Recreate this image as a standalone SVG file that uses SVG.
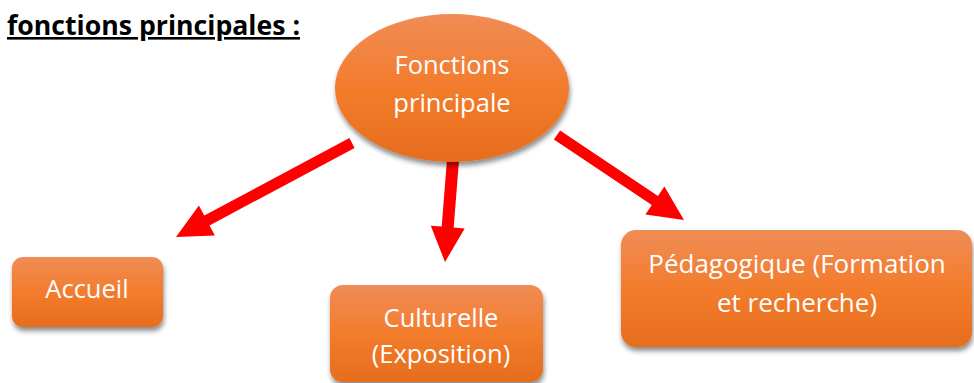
<svg xmlns="http://www.w3.org/2000/svg" width="974" height="383" viewBox="0 0 974 383">
  <defs>
    <linearGradient id="og" x1="0" y1="0" x2="0" y2="1">
      <stop offset="0" stop-color="#F08C56"/>
      <stop offset="0.5" stop-color="#F37C2C"/>
      <stop offset="1" stop-color="#E66D1D"/>
    </linearGradient>
    <filter id="sh" x="-10%" y="-10%" width="120%" height="130%">
      <feDropShadow dx="1" dy="4" stdDeviation="2.5" flood-color="#000" flood-opacity="0.45"/>
    </filter>
  </defs>
  <style>
    .node { fill: url(#og); filter: url(#sh); }
    .lbl { font-family: "Open Sans", "Noto Sans", sans-serif; font-size: 25.5px; fill: #FFFFFF; text-anchor: middle; }
    .big { font-size: 26px; }
    .arrow { fill: #FF0000; }
    .title { font-family: "Open Sans", "Liberation Sans", sans-serif; font-weight: bold; font-size: 26px; fill: #000000; text-decoration: underline; }
  </style>
  <rect width="974" height="383" fill="#FFFFFF"/>
  <text class="title" x="7" y="35" textLength="293" lengthAdjust="spacingAndGlyphs">fonctions principales :</text>

  <g id="connectors">
    <polygon class="arrow" points="354.6,147.9 209.5,225.4 214.9,235.5 176,237 198.9,205.5 204.3,215.6 349.4,138.1"/>
    <polygon class="arrow" points="460,147.5 453.7,227.6 464.7,228.4 445,262 430.8,225.8 441.7,226.6 448,146.5"/>
    <polygon class="arrow" points="553.9,139.6 651.8,205.1 645.4,214.6 684,220 664.4,186.4 658,195.9 560.1,130.4"/>
  </g>

  <g id="node-fonctions">
    <ellipse class="node" cx="452" cy="88" rx="117" ry="74"/>
    <text class="lbl" x="452" y="74">Fonctions</text>
    <text class="lbl" x="452" y="112">principale</text>
  </g>

  <g id="node-accueil">
    <rect class="node" x="12" y="257" width="151" height="70" rx="11"/>
    <text class="lbl" x="87" y="298">Accueil</text>
  </g>

  <g id="node-culturelle">
    <rect class="node" x="330" y="285" width="213" height="97" rx="13"/>
    <text class="lbl" x="441" y="327">Culturelle</text>
    <text class="lbl" x="441" y="363">(Exposition)</text>
  </g>

  <g id="node-pedagogique">
    <rect class="node" x="621" y="230" width="351" height="117" rx="15"/>
    <text class="lbl big" x="797" y="273">Pédagogique (Formation</text>
    <text class="lbl big" x="797" y="312">et recherche)</text>
  </g>
</svg>
